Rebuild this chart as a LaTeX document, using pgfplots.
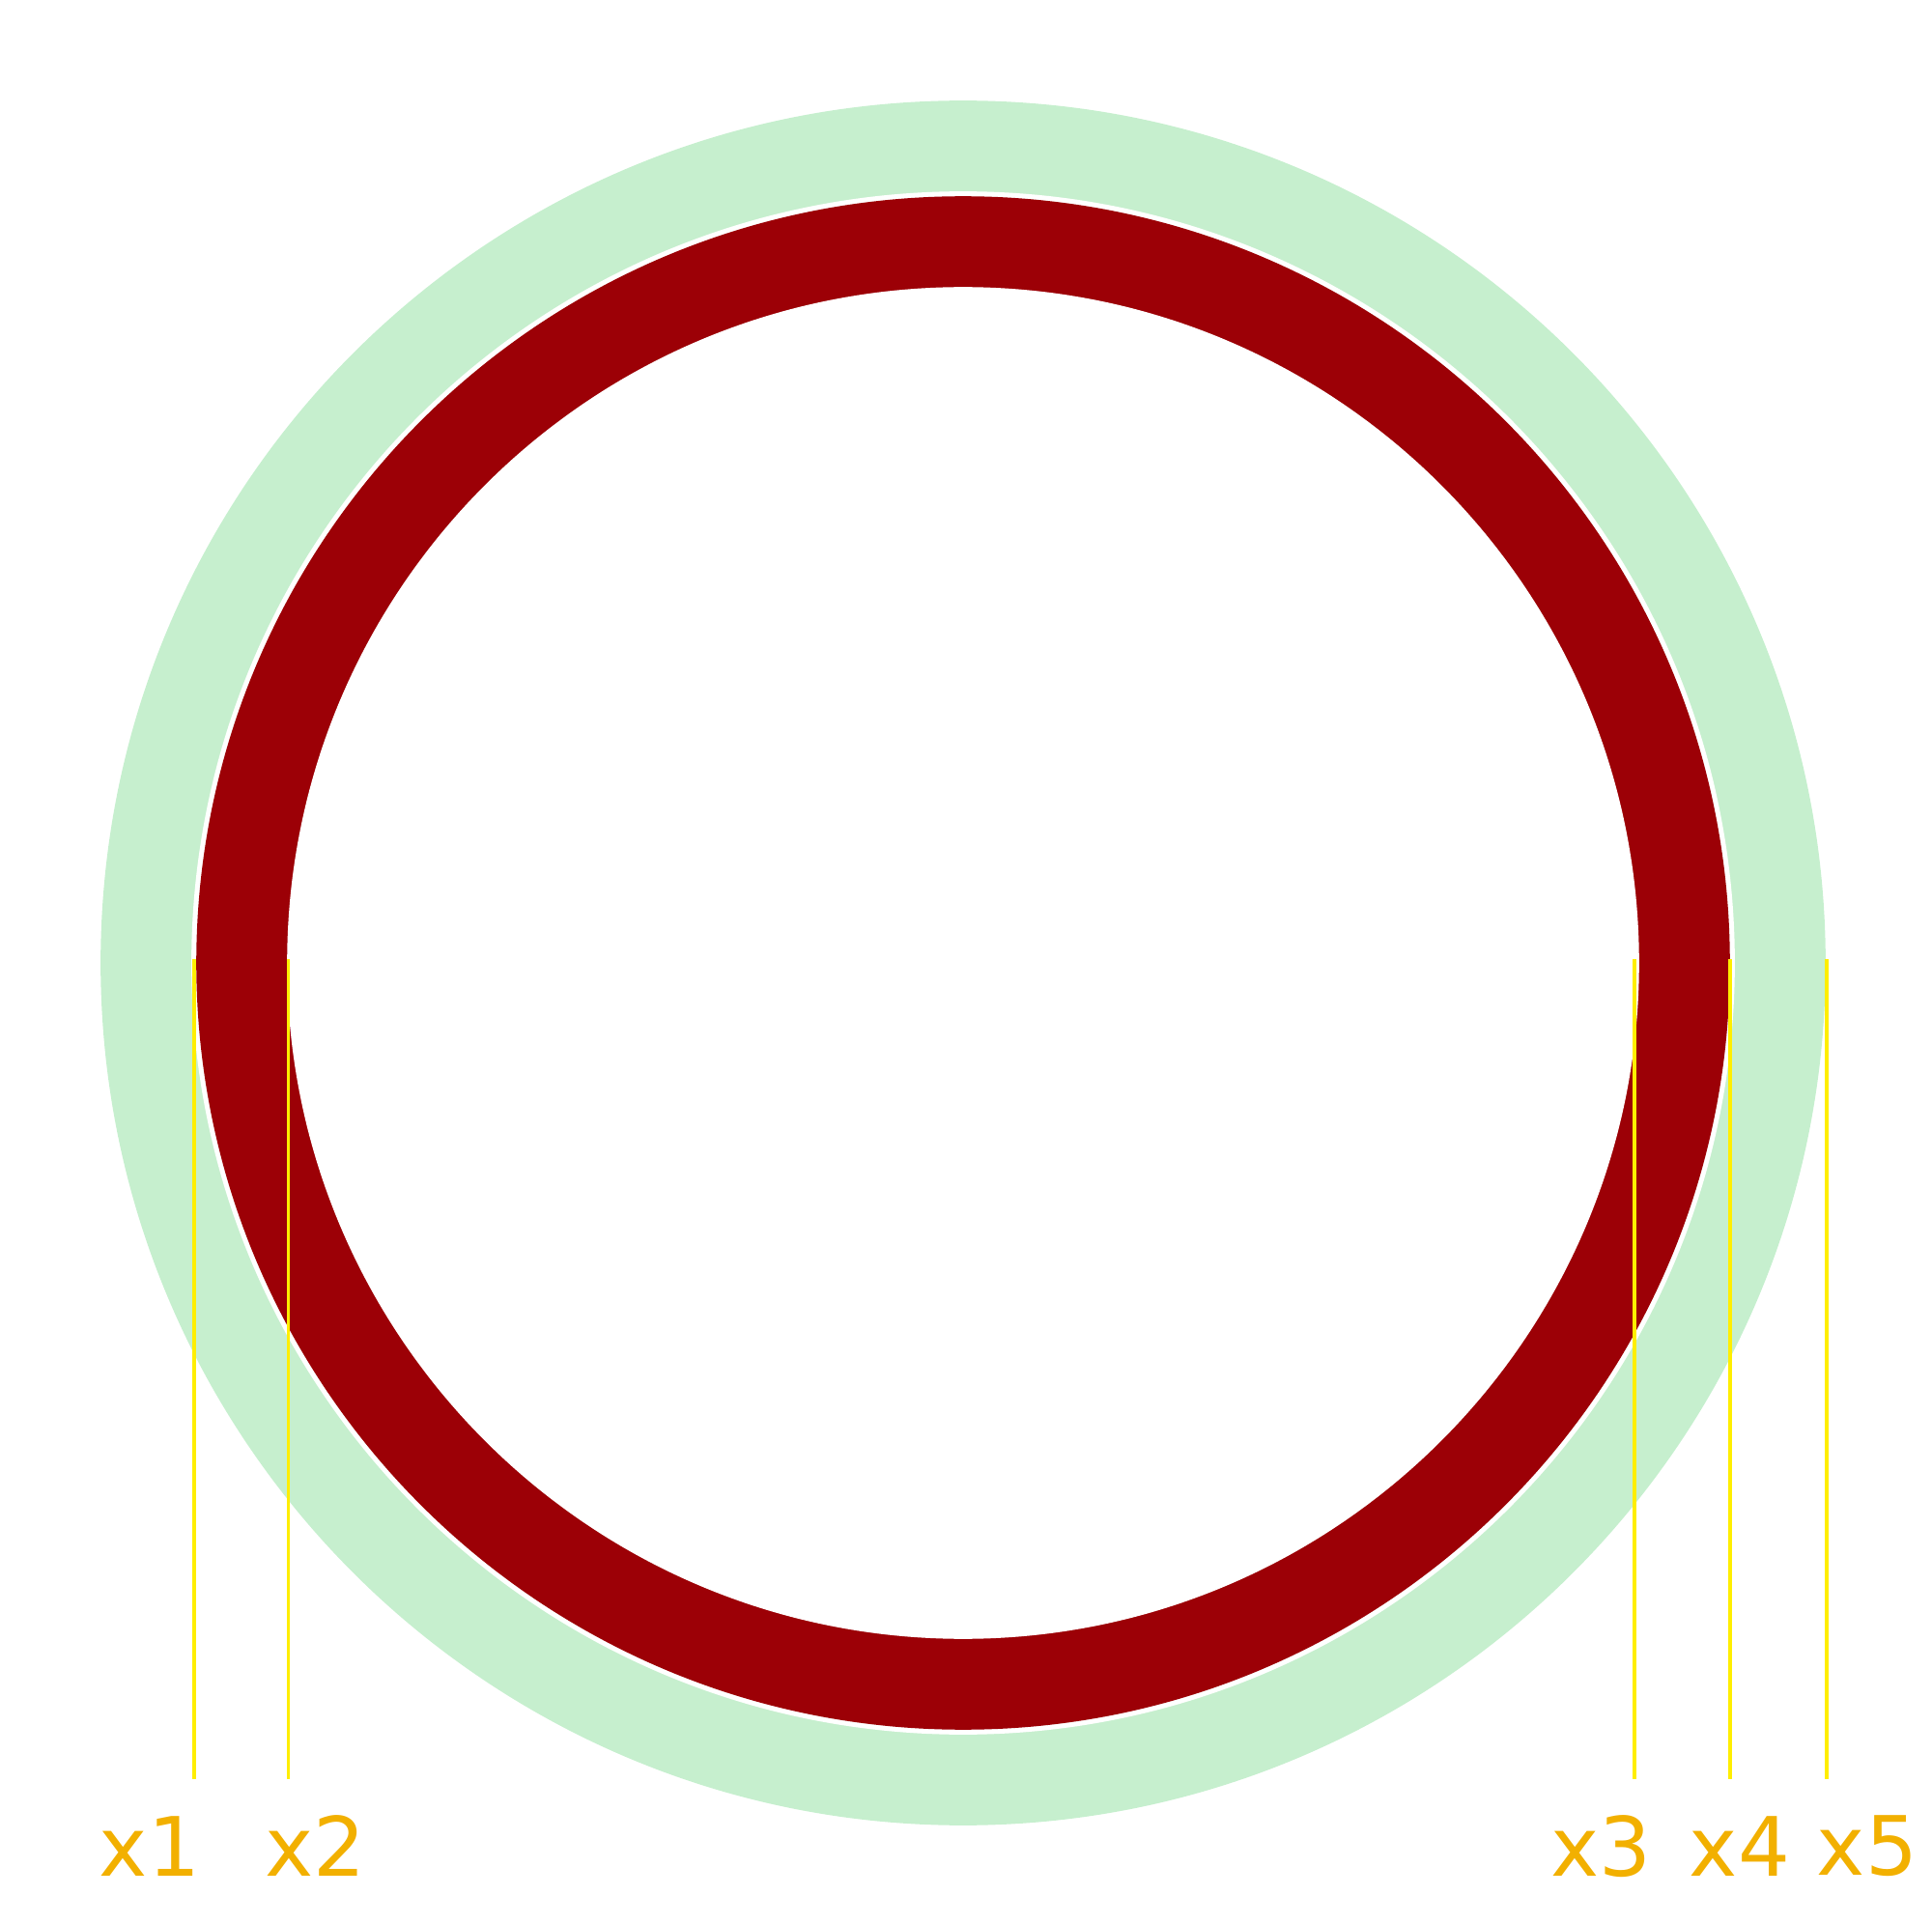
\documentclass[border=0pt]{standalone}
\usepackage{pgfplots}
\pgfplotsset{compat=1.18}
\usepackage{fontspec}
\setmainfont{DejaVu Sans}
\definecolor{gr}{HTML}{C6EFCE}
\definecolor{rd}{HTML}{9C0006}
\definecolor{yl}{HTML}{FFEE00}
\definecolor{or}{HTML}{F2B000}
\begin{document}
\begin{tikzpicture}
\begin{axis}[width=15.68cm,height=15.68cm,scale only axis,hide axis,
  xmin=0,xmax=1568,ymin=0,ymax=1568,y dir=reverse,clip=false]
\path (axis cs:0,0) rectangle (axis cs:1568,1568);
\fill[gr] (axis cs:785,785) circle[radius=703];
\fill[white] (axis cs:785,785) circle[radius=629];
\fill[rd] (axis cs:785,785) circle[radius=625];
\fill[white] (axis cs:785,785) circle[radius=551];
\addplot[yl,line width=0.3mm] coordinates {(158,782) (158,1450)};
\addplot[yl,line width=0.3mm] coordinates {(235,782) (235,1450)};
\addplot[yl,line width=0.3mm] coordinates {(1332,782) (1332,1450)};
\addplot[yl,line width=0.3mm] coordinates {(1410,782) (1410,1450)};
\addplot[yl,line width=0.3mm] coordinates {(1489,782) (1489,1450)};
\foreach \x/\l in {122/x1,257/x2,1305/x3,1418/x4,1522/x5}{
  \edef\tmp{\noexpand\node[text=or,font=\noexpand\fontsize{19}{23}\noexpand\selectfont] at (axis cs:\x,1505) {\l};}\tmp
}
\end{axis}
\end{tikzpicture}
\end{document}
